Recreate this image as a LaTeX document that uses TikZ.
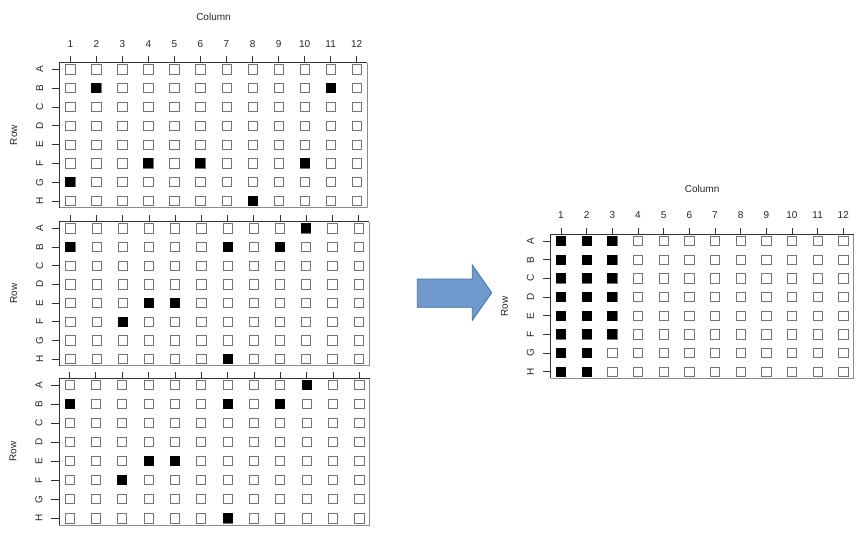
\documentclass[tikz,border=0pt]{standalone}
\usepackage{fontspec}
\setmainfont{Liberation Sans}
\tikzset{
 openwell/.style={draw=black!55, line width=0.8pt, minimum size=9.2pt, inner sep=0pt},
 fullwell/.style={fill=black, minimum size=10pt, inner sep=0pt},
 lbl/.style={font=\fontsize{10}{11}\selectfont, inner sep=0pt, text=black!85},
 framedark/.style={draw=black!80, line width=0.8pt},
 framelight/.style={draw=black!45, line width=0.8pt},
 axtick/.style={draw=black!80, line width=0.7pt},
 bluearrow/.style={fill={rgb,255:red,112;green,153;blue,206}, draw={rgb,255:red,65;green,113;blue,160}, line width=0.8pt, line join=miter}
}
% #1 name, #2 x of col 1, #3 x of col 12, #4 y of row A, #5 y of row H, #6 show column numbers (1/0)
\newcommand\wellplate[6]{%
 \pgfmathsetmacro\dx{(#3-#2)/11}%
 \pgfmathsetmacro\dy{(#5-#4)/7}%
 \pgfmathsetmacro\fl{#2-10.5}\pgfmathsetmacro\fr{#3+10.5}%
 \pgfmathsetmacro\ft{#4-6.6}\pgfmathsetmacro\fb{#5+6.6}%
 \draw[framelight] (\fr,\ft) -- (\fr,\fb) -- (\fl,\fb);
 \draw[framedark] (\fl,\fb) -- (\fl,\ft) -- (\fr,\ft);
 \foreach \c in {1,...,12} {%
   \pgfmathsetmacro\xx{#2+(\c-1)*\dx}%
   \draw[axtick] (\xx,\ft) -- (\xx,\ft-6.5);
   \ifnum#6=1 \node[lbl] (#1-n\c) at (\xx,\ft-19) {\c};\fi
 }
 \foreach \r/\L in {1/A,2/B,3/C,4/D,5/E,6/F,7/G,8/H} {%
   \pgfmathsetmacro\yy{#4+(\r-1)*\dy}%
   \draw[axtick] (\fl,\yy) -- (\fl-7.6,\yy);
   \node[lbl, rotate=90] (#1-l\r) at (\fl-20,\yy) {\L};
   \foreach \c in {1,...,12} {%
     \pgfmathsetmacro\xx{#2+(\c-1)*\dx}%
     \node[openwell] (#1-\r-\c) at (\xx,\yy) {};
   }
 }
 \node[lbl, rotate=90] (#1-row) at (\fl-46,{(\ft+\fb)/2}) {Row};
 \ifnum#6=1 \node[lbl] (#1-col) at ({(\fl+\fr)/2},\ft-45.7) {Column};\fi
}
\begin{document}
\begin{tikzpicture}[x=1pt,y=-1pt]
\useasboundingbox (0,0) rectangle (867,536);
\fill[white] (0,0) rectangle (867,536);
% plate 1
\wellplate{p1}{70.3}{356.7}{69.3}{201}{1}
\foreach \w in {2-2,2-11,6-4,6-6,6-10,7-1,8-8} \node[fullwell] at (p1-\w) {};
% plate 2
\wellplate{p2}{70.3}{358.5}{228.3}{359}{0}
\foreach \w in {1-10,2-1,2-7,2-9,5-4,5-5,6-3,8-7} \node[fullwell] at (p2-\w) {};
% plate 3
\wellplate{p3}{69.5}{359.3}{385}{518.3}{0}
\foreach \w in {1-10,2-1,2-7,2-9,5-4,5-5,6-3,8-7} \node[fullwell] at (p3-\w) {};
% result plate
\wellplate{p4}{561}{843.3}{241}{371.7}{1}
\foreach \r in {1,...,8} {\node[fullwell] at (p4-\r-1) {}; \node[fullwell] at (p4-\r-2) {};}
\foreach \r in {1,...,6} \node[fullwell] at (p4-\r-3) {};
% arrow
\draw[bluearrow] (417.3,279) -- (472.3,279) -- (472.3,265) -- (491.7,292.7) -- (472.3,320.3) -- (472.3,307.3) -- (417.3,307.3) -- cycle;
\end{tikzpicture}
\end{document}
